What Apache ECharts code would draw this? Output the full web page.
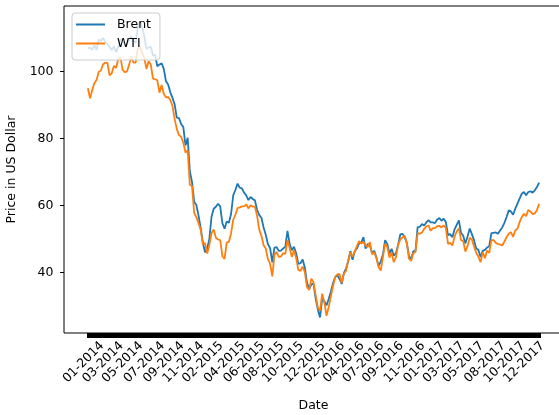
<!DOCTYPE html>
<html>
<head>
<meta charset="utf-8">
<script src="https://cdn.jsdelivr.net/npm/echarts@6/dist/echarts.min.js"></script>
<style>
  html, body { margin: 0; padding: 0; background: #fff; }
  #chart { width: 559px; height: 415px; }
</style>
</head>
<body>
<div id="chart"></div>
<script>
// Weekly (Friday) crude oil prices, Jan 2014 - Dec 2017, US$ per barrel.
const brent = [
  // 2014
  106.9, 107.2, 106.5, 107.9, 106.4,
  109.6, 109.1, 110.0, 108.9,
  108.2, 107.3, 106.4, 107.6,
  105.8, 107.3, 109.6, 109.5,
  108.0, 108.0, 109.8, 110.5, 109.1,
  108.6, 113.0, 114.8, 113.3,
  110.6, 106.7, 107.2, 107.4,
  104.8, 105.0, 101.6, 102.1, 102.5,
  100.8, 97.1, 96.1, 93.8,
  92.2, 90.2, 86.2, 86.1, 84.3,
  83.4, 77.9, 80.2, 70.2,
  67.0, 61.1, 60.1, 57.0,
  // 2015
  53.3, 48.9, 46.0, 47.1, 50.0,
  56.6, 59.0, 59.6, 60.5,
  59.7, 54.7, 53.0, 55.2,
  54.8, 57.4, 63.0, 64.6,
  66.5, 65.3, 65.1, 63.8, 63.0,
  61.6, 62.5, 61.9, 61.5,
  58.7, 57.1, 56.3, 53.4, 51.2,
  48.4, 47.2, 43.0, 47.4,
  47.5, 46.4, 46.5, 47.1,
  47.6, 52.4, 48.5, 46.6, 47.6,
  45.7, 42.5, 42.7, 43.8,
  41.4, 36.9, 35.0, 36.4,
  // 2016
  36.6, 32.1, 28.9, 26.5, 32.2,
  31.4, 30.1, 32.0, 34.2,
  36.8, 38.6, 39.1, 38.0,
  36.5, 39.8, 41.1, 43.3, 46.3,
  43.7, 46.3, 47.1, 48.6,
  48.8, 50.5, 47.1, 48.5,
  48.0, 45.8, 46.4, 44.4, 41.9,
  43.2, 45.3, 49.6, 48.5,
  45.6, 47.0, 45.0, 45.7, 48.2,
  51.3, 51.5, 50.6, 48.8,
  44.9, 43.9, 46.3, 46.4,
  53.5, 53.6, 54.4, 54.0, 54.9,
  // 2017
  55.6, 54.9, 54.9, 54.7,
  55.8, 56.2, 55.4, 56.0,
  55.0, 51.1, 51.4, 50.5, 52.8,
  54.2, 55.5, 51.8, 50.9,
  48.6, 50.7, 53.1, 51.4,
  49.6, 47.1, 46.7, 44.6, 46.4,
  46.7, 47.4, 47.8, 51.7,
  51.8, 51.9, 51.5, 52.5,
  53.4, 54.8, 56.5, 58.5, 58.2,
  57.2, 59.0, 60.5, 62.0,
  63.5, 64.0, 63.0, 64.0,
  64.2, 63.8, 64.5, 65.5, 66.8
];

const wti = [
  // 2014
  95.0, 92.0, 94.4, 96.6, 97.5,
  99.9, 100.3, 102.2, 102.6,
  102.6, 98.9, 99.5, 101.7,
  101.1, 103.7, 104.3, 100.6,
  99.8, 100.0, 102.0, 104.4, 102.7,
  102.7, 106.9, 107.3, 105.7,
  104.1, 100.8, 103.1, 102.1,
  97.9, 97.7, 97.4, 93.7, 96.0,
  93.3, 92.3, 92.4, 91.5,
  89.7, 85.8, 82.8, 81.0, 80.5,
  78.7, 75.8, 76.5, 66.2,
  65.8, 57.8, 56.5, 54.7,
  // 2015
  52.7, 48.4, 48.7, 45.6, 48.2,
  51.7, 52.8, 50.3, 49.8,
  49.6, 44.8, 44.0, 48.9,
  49.1, 51.6, 55.7, 57.2,
  59.2, 59.4, 59.7, 59.7, 60.3,
  59.1, 60.0, 59.6, 59.6,
  56.9, 52.7, 50.9, 48.1, 47.1,
  43.9, 42.5, 38.8, 45.2,
  46.1, 44.6, 44.7, 45.7,
  45.5, 49.6, 47.3, 44.6, 46.6,
  44.3, 40.7, 40.4, 41.7,
  40.0, 35.6, 34.7, 38.1,
  // 2016
  37.0, 33.2, 29.4, 28.5, 33.6,
  30.9, 27.0, 29.6, 32.8,
  35.9, 38.5, 39.4, 39.5,
  36.8, 39.7, 40.4, 43.7, 45.9,
  44.7, 46.2, 47.8, 49.3,
  48.6, 49.1, 48.0, 47.6,
  49.0, 45.4, 46.0, 44.2, 41.6,
  40.5, 44.5, 48.5, 47.6,
  44.4, 45.9, 43.0, 44.5, 48.2,
  49.8, 50.4, 50.9, 48.7,
  44.1, 43.4, 45.7, 46.1,
  51.7, 51.5, 51.9, 53.0, 53.7,
  // 2017
  54.0, 52.4, 53.2, 53.2,
  53.8, 53.9, 53.4, 54.0,
  53.3, 48.5, 48.8, 48.0, 50.6,
  52.2, 53.2, 49.6, 49.3,
  46.2, 47.8, 50.3, 49.8,
  47.7, 45.8, 44.7, 43.0, 46.0,
  44.2, 46.5, 45.8, 49.7,
  49.6, 48.8, 48.5, 48.3,
  48.0, 49.2, 50.5, 51.5, 52.0,
  50.6, 52.5, 53.0, 55.0,
  56.5, 57.5, 56.8, 58.6,
  58.2, 57.4, 57.6, 58.6, 60.5
];

// Week-ending dates (Fridays) for each observation.
const firstFriday = Date.UTC(2014, 0, 3);
const weeks = brent.map((_, i) =>
  new Date(firstFriday + i * 7 * 86400000).toISOString().slice(0, 10));

const tickLabels = [
  '01-2014', '03-2014', '05-2014', '07-2014', '09-2014', '11-2014',
  '02-2015', '04-2015', '06-2015', '08-2015', '10-2015', '12-2015',
  '02-2016', '04-2016', '07-2016', '09-2016', '11-2016',
  '01-2017', '03-2017', '05-2017', '08-2017', '10-2017', '12-2017'
];
const yTicks = [40, 60, 80, 100];

// Empty slots either side of the data give the plot its side margins.
const pad = 11;
const categories = [
  ...Array.from({ length: pad }, (_, i) => 'lead' + i),
  ...weeks,
  ...Array.from({ length: pad }, (_, i) => 'tail' + i)
];
const padSeries = arr => [...Array(pad).fill(null), ...arr, ...Array(pad).fill(null)];

// Date labels are spread evenly over the first 203 weeks.
const labelSpan = 203;
const labelAt = tickLabels.map((_, k) =>
  pad + Math.round(k * labelSpan / (tickLabels.length - 1)));

const font = 'DejaVu Sans';
const chart = echarts.init(document.getElementById('chart'), null, { renderer: 'canvas' });

chart.setOption({
  animation: false,
  backgroundColor: '#ffffff',
  grid: {
    left: 64, right: -4, top: 6, bottom: 82,
    outerBoundsMode: 'none',
    show: true, borderColor: '#000', borderWidth: 1, backgroundColor: 'transparent'
  },
  legend: {
    orient: 'vertical',
    left: 72, top: 13,
    icon: 'rect',
    itemWidth: 29, itemHeight: 2, itemGap: 6,
    padding: [5, 9, 10, 4],
    backgroundColor: 'rgba(255,255,255,0.8)',
    borderColor: '#cccccc', borderWidth: 1, borderRadius: 3,
    textStyle: { fontFamily: font, fontSize: 12.5, color: '#000', padding: [0, 0, 0, 7] },
    data: ['Brent', 'WTI']
  },
  xAxis: {
    type: 'category',
    data: categories,
    boundaryGap: false,
    name: 'Date',
    nameLocation: 'middle',
    nameGap: 73,
    nameMoveOverlap: false,
    nameTextStyle: { fontFamily: font, fontSize: 12.5, color: '#000', verticalAlign: 'middle' },
    axisLine: { show: false },
    axisTick: {
      show: true,
      length: 5,
      interval: i => i >= pad && i < pad + weeks.length,
      lineStyle: { color: '#000', width: 3 }
    },
    axisLabel: {
      interval: i => labelAt.includes(i),
      formatter: (v, i) => tickLabels[labelAt.indexOf(i)] || '',
      rotate: 45,
      align: 'center',
      verticalAlign: 'middle',
      padding: [0, 12, 0, 0],
      margin: 25,
      fontFamily: font,
      fontSize: 12.5,
      color: '#000'
    },
    splitLine: { show: false }
  },
  yAxis: {
    type: 'value',
    min: 21.85,
    max: 119.6,
    name: 'Price in US Dollar',
    nameLocation: 'middle',
    nameGap: 51,
    nameTextStyle: { fontFamily: font, fontSize: 12.5, color: '#000', verticalAlign: 'middle' },
    axisLine: { show: false },
    axisTick: { show: true, length: 4, customValues: yTicks, lineStyle: { color: '#000', width: 1 } },
    axisLabel: { customValues: yTicks, margin: 10.5, fontFamily: font, fontSize: 12.5, color: '#000' },
    splitLine: { show: false }
  },
  series: [
    {
      name: 'Brent', type: 'line', data: padSeries(brent),
      symbol: 'none', lineStyle: { width: 1.8, color: '#1f77b4' },
      itemStyle: { color: '#1f77b4' }
    },
    {
      name: 'WTI', type: 'line', data: padSeries(wti),
      symbol: 'none', lineStyle: { width: 1.8, color: '#ff7f0e' },
      itemStyle: { color: '#ff7f0e' }
    }
  ]
});
</script>
</body>
</html>
